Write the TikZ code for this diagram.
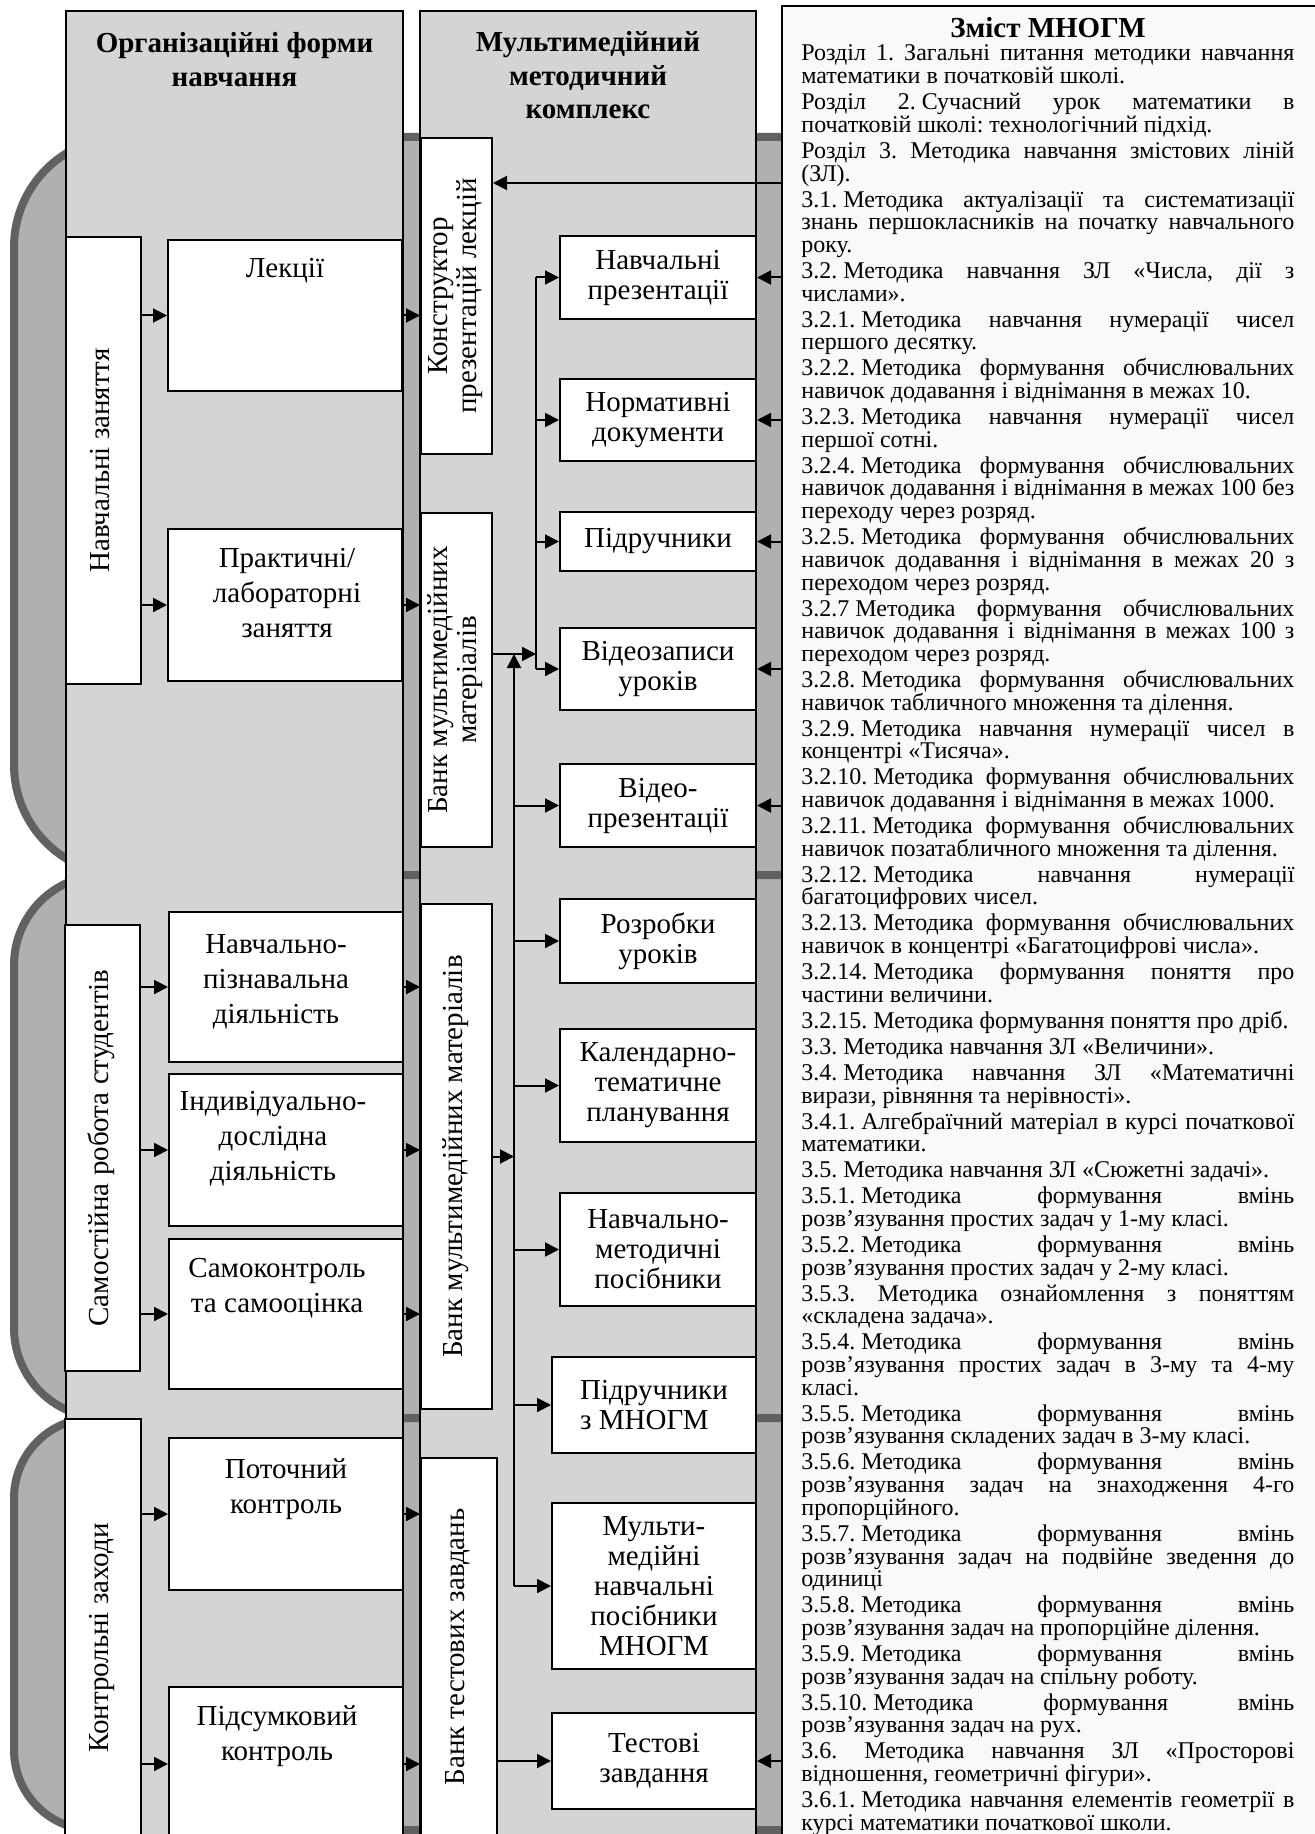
\documentclass[tikz,border=0pt]{standalone}
\usepackage{fontspec}
\setmainfont{Liberation Serif}
\usepackage{graphicx}
\usetikzlibrary{positioning, arrows.meta}

\definecolor{bandfill}{gray}{0.69}
\definecolor{bandline}{gray}{0.38}
\definecolor{colfill}{gray}{0.83}
\definecolor{panelfill}{gray}{0.975}

\newcommand{\vtext}[1]{\rotatebox{90}{\begin{tabular}{@{}c@{}}#1\end{tabular}}}
\newcommand{\nbs}{\kern.25em}
\newcommand{\zmist}{%
\setlength{\parskip}{1.65pt}\tolerance=10000 \hyphenpenalty=10000 \frenchspacing
Розділ 1. Загальні питання методики навчання\linebreak математики в початковій школі.\par
Розділ 2.\nbs Сучасний урок математики в\linebreak початковій школі: технологічний підхід.\par
Розділ 3. Методика навчання змістових ліній\linebreak (ЗЛ).\par
3.1.\nbs Методика актуалізації та систематизації\linebreak знань першокласників на початку навчального\linebreak року.\par
3.2.\nbs Методика навчання ЗЛ «Числа, дії з\linebreak числами».\par
3.2.1.\nbs Методика навчання нумерації чисел\linebreak першого десятку.\par
3.2.2.\nbs Методика формування обчислювальних\linebreak навичок додавання і віднімання в межах 10.\par
3.2.3.\nbs Методика навчання нумерації чисел\linebreak першої сотні.\par
3.2.4.\nbs Методика формування обчислювальних\linebreak навичок додавання і віднімання в межах 100 без\linebreak переходу через розряд.\par
3.2.5.\nbs Методика формування обчислювальних\linebreak навичок додавання і віднімання в межах 20 з\linebreak переходом через розряд.\par
3.2.7\nbs Методика формування обчислювальних\linebreak навичок додавання і віднімання в межах 100 з\linebreak переходом через розряд.\par
3.2.8.\nbs Методика формування обчислювальних\linebreak навичок табличного множення та ділення.\par
3.2.9.\nbs Методика навчання нумерації чисел в\linebreak концентрі «Тисяча».\par
3.2.10.\nbs Методика формування обчислювальних\linebreak навичок додавання і віднімання в межах 1000.\par
3.2.11.\nbs Методика формування обчислювальних\linebreak навичок позатабличного множення та ділення.\par
3.2.12.\nbs Методика навчання нумерації\linebreak багатоцифрових чисел.\par
3.2.13.\nbs Методика формування обчислювальних\linebreak навичок в концентрі «Багатоцифрові числа».\par
3.2.14.\nbs Методика формування поняття про\linebreak частини величини.\par
3.2.15.\nbs Методика формування поняття про дріб.\par
3.3.\nbs Методика навчання ЗЛ «Величини».\par
3.4.\nbs Методика навчання ЗЛ «Математичні\linebreak вирази, рівняння та нерівності».\par
3.4.1.\nbs Алгебраїчний матеріал в курсі початкової\linebreak математики.\par
3.5.\nbs Методика навчання ЗЛ «Сюжетні задачі».\par
3.5.1.\nbs Методика формування вмінь\linebreak розв'язування простих задач у 1-му класі.\par
3.5.2.\nbs Методика формування вмінь\linebreak розв’язування простих задач у 2-му класі.\par
3.5.3. Методика ознайомлення з поняттям\linebreak «складена задача».\par
3.5.4.\nbs Методика формування вмінь\linebreak розв’язування простих задач в 3-му та 4-му\linebreak класі.\par
3.5.5.\nbs Методика формування вмінь\linebreak розв’язування складених задач в 3-му класі.\par
3.5.6.\nbs Методика формування вмінь\linebreak розв’язування задач на знаходження 4-го\linebreak пропорційного.\par
3.5.7.\nbs Методика формування вмінь\linebreak розв’язування задач на подвійне зведення до\linebreak одиниці\par
3.5.8.\nbs Методика формування вмінь\linebreak розв’язування задач на пропорційне ділення.\par
3.5.9.\nbs Методика формування вмінь\linebreak розв’язування задач на спільну роботу.\par
3.5.10.\nbs Методика формування вмінь\linebreak розв’язування задач на рух.\par
3.6. Методика навчання ЗЛ «Просторові\linebreak відношення, геометричні фігури».\par
3.6.1.\nbs Методика навчання елементів геометрії в\linebreak курсі математики початкової школи.}

\begin{document}
\begin{tikzpicture}[x = 0.5pt, y = -0.5pt,
    band/.style = {draw = bandline, line width = 4pt, fill = bandfill},
    colbox/.style = {draw, line width = 1pt, fill = colfill, anchor = north west, minimum width = 168pt, minimum height = 925pt},
    coltitle/.style = {font = \fontsize{14.5}{16.75}\selectfont\bfseries, align = center, anchor = base, inner sep = 0},
    box/.style = {draw, line width = 1pt, fill = white, anchor = north west, inner sep = 0, align = center, font = \fontsize{14.5}{14.5}\selectfont},
    lbox/.style = {box, minimum width = 117pt},
    rbox/.style = {box, minimum width = 98pt, font = \fontsize{14.5}{15}\selectfont},
    lab/.style = {font = \fontsize{14.5}{17.5}\selectfont, align = center, inner sep = 0, anchor = base},
    toptext/.style n args = {3}{label = {[lab, xshift = #1, yshift = #2]north:{#3}}},
    arr/.style = {-{Triangle[length = 7pt, width = 7pt]}, line width = 1pt},
    conn/.style = {line width = 1pt}]
    \useasboundingbox (0,0) rectangle (1314,1834);

    % bands
    \draw[band, rounded corners = 55pt] (14,137) rectangle (1330,875);
    \draw[band, rounded corners = 45pt] (14,875) rectangle (1330,1418);
    \draw[band, rounded corners = 40pt] (14,1418) rectangle (1330,1830);

    % columns
    \node[colbox, minimum width = 168.5pt] (orgcol) at (65,10) {};
    \node[colbox] (mmkcol) at (419,10) {};
    \node[coltitle] (orgtitle) at ([yshift = -38.25pt]orgcol.north) {Організаційні форми\\навчання};
    \node[coltitle] (mmktitle) at ([yshift = -54.5pt]mmkcol.north) {Мультимедійний\\методичний\\комплекс};

    % content panel
    \node[draw, line width = 1pt, fill = panelfill, anchor = north west, minimum width = 280pt, minimum height = 925pt] (panel) at (781,5) {};
    \node[coltitle] (zmtitle) at (1048,38) {Зміст МНОГМ};
    \node[anchor = base west, text width = 246.5pt, align = justify, inner sep = 0, font = \fontsize{12}{11.35}\selectfont] (zmtext) at (801,61) {\zmist};

    % forms of study
    \node[box, minimum width = 37.5pt, minimum height = 223.5pt] (navz) at (65,236) {\vtext{Навчальні заняття}};
    \node[lbox, minimum height = 75.5pt, toptext = {0pt}{-19.5pt}{Лекції}] (lek) at (167,239) {};
    \node[lbox, minimum height = 76pt, toptext = {1pt}{-54.5pt}{Практичні/\\лабораторні\\заняття}] (prak) at (167,528) {};
    \node[box, minimum width = 37.5pt, minimum height = 223pt] (samo) at (64,924) {\vtext{Самостійна робота студентів}};
    \node[lbox, minimum height = 75pt, toptext = {-5pt}{-56pt}{Навчально-\\пізнавальна\\діяльність}] (npiz) at (168,911) {};
    \node[lbox, minimum height = 76pt, toptext = {-6.5pt}{-53.5pt}{Індивідуально-\\дослідна\\діяльність}] (indy) at (168,1073) {};
    \node[lbox, minimum height = 75pt, toptext = {-4.5pt}{-37pt}{Самоконтроль\\та самооцінка}] (skon) at (168,1238) {};
    \node[box, minimum width = 38pt, minimum height = 219pt] (konz) at (64,1418) {\vtext{Контрольні заходи}};
    \node[lbox, minimum height = 76pt, toptext = {0pt}{-38pt}{Поточний\\контроль}] (poto) at (168,1437) {};
    \node[lbox, minimum height = 77pt, toptext = {-4.5pt}{-37pt}{Підсумковий\\контроль}] (pids) at (168,1686) {};

    % complex
    \node[box, minimum width = 35.5pt, minimum height = 158pt] (kon) at (420,137) {\vtext{Конструктор\\презентацій лекцій}};
    \node[box, minimum width = 35.5pt, minimum height = 167pt] (bank1) at (420,512) {\vtext{Банк мультимедійних\\матеріалів}};
    \node[box, minimum width = 35.5pt, minimum height = 252.5pt] (bank2) at (420,903) {\vtext{Банк мультимедійних матеріалів}};
    \node[box, minimum width = 38pt, minimum height = 189pt] (bank3) at (420,1457) {\vtext{Банк тестових завдань}};

    \node[rbox, minimum height = 41.5pt] (np) at (559,235) {Навчальні\\презентації};
    \node[rbox, minimum height = 41pt] (nd) at (559,378) {Нормативні\\документи};
    \node[rbox, minimum height = 29.5pt] (pid) at (559,511) {Підручники};
    \node[rbox, minimum height = 41pt] (vz) at (559,627) {Відеозаписи\\уроків};
    \node[rbox, minimum height = 41.5pt] (vp) at (559,763) {Відео-\\презентації};
    \node[rbox, minimum height = 42pt] (rozr) at (559,898) {Розробки\\уроків};
    \node[rbox, minimum height = 56.5pt] (kal) at (559,1028) {Календарно-\\тематичне\\планування};
    \node[rbox, minimum height = 56.5pt] (nmp) at (559,1192) {Навчально-\\методичні\\посібники};
    \node[rbox, minimum width = 102pt, minimum height = 48pt, align = left] (pmn) at (551,1356) {Підручники\\з МНОГМ};
    \node[rbox, minimum width = 102pt, minimum height = 83pt] (mm) at (551,1502) {Мульти-\\медійні\\навчальні\\посібники\\МНОГМ};
    \node[rbox, minimum width = 102pt, minimum height = 48pt] (test) at (551,1712) {Тестові\\завдання};

    \coordinate (l1) at (536,0);
    \coordinate (l2) at (514,0);
    \coordinate (kin) at ([yshift = -23pt]kon.north east);
    \coordinate (b1out) at ([yshift = 13pt]bank1.east);

    % connectors
    \draw[arr] (panel.west |- kin) -- (kin);
    \foreach \b in {np, nd, pid, vz, vp, test}
        \draw[arr] (panel.west |- \b) -- (\b.east);
    \foreach \a/\b in {navz/lek, navz/prak, samo/npiz, samo/indy, samo/skon, konz/poto, konz/pids}
        \draw[arr] (\a.east |- \b) -- (\b.west);
    \foreach \a/\b in {lek/kon, prak/bank1, npiz/bank2, indy/bank2, skon/bank2, poto/bank3, pids/bank3}
        \draw[arr] (\a.east) -- (\a.east -| \b.west);

    \draw[conn] (np.west -| l1) -- (vz.west -| l1);
    \foreach \b in {np, nd, pid, vz}
        \draw[arr] (\b.west -| l1) -- (\b.west);
    \draw[arr] (b1out) -- (b1out -| l1);
    \draw[arr] (mm.west -| l2) -- (b1out -| l2);
    \foreach \b in {vp, rozr, kal, nmp, pmn, mm}
        \draw[arr] (\b.west -| l2) -- (\b.west);
    \draw[arr] (bank2.east) -- (bank2.east -| l2);
    \draw[arr] (test.west -| bank3.east) -- (test.west);
\end{tikzpicture}
\end{document}
